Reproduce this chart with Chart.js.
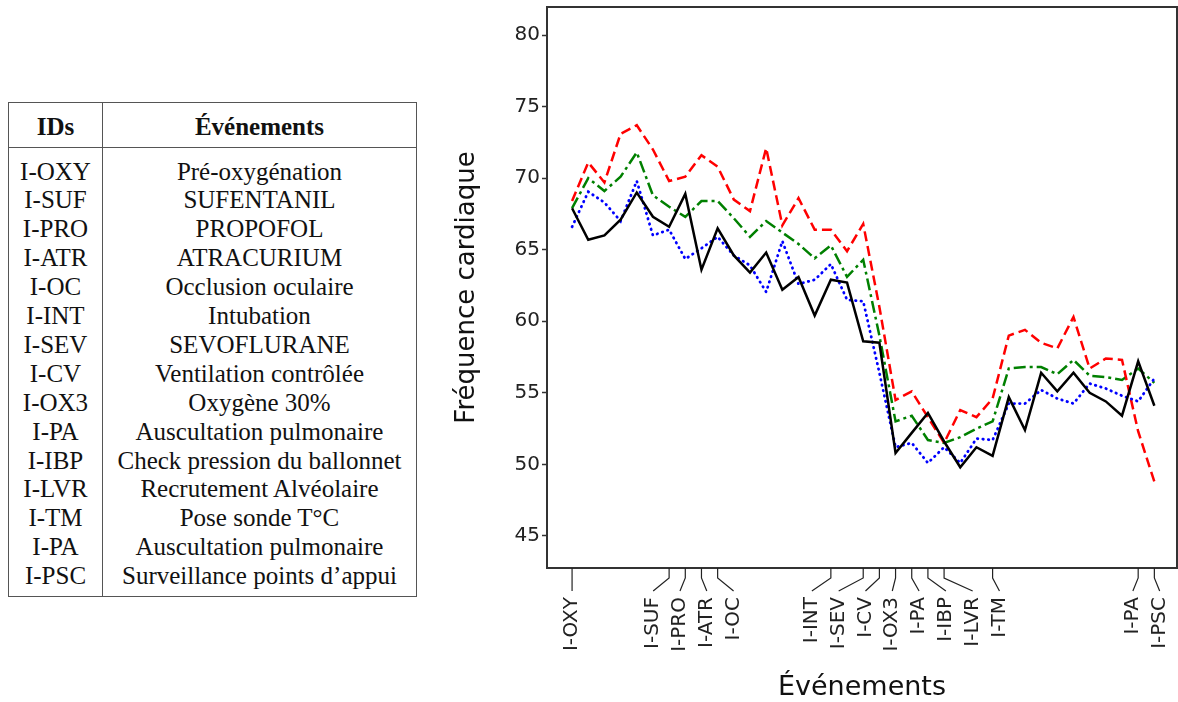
<!DOCTYPE html>
<html>
<head>
<meta charset="utf-8">
<script src="https://cdn.jsdelivr.net/npm/chart.js@4.4.1/dist/chart.umd.min.js"></script>
<style>
html, body { margin: 0; padding: 0; background: #fff; overflow: hidden; width: 1178px; height: 702px; }
#tbl { position: absolute; left: 8px; top: 102px; width: 409px; height: 495px; box-sizing: border-box;
       border: 1px solid #555; font-family: "Liberation Serif", serif; font-size: 25px; color: #111; }
#tbl .sep { position: absolute; left: 93px; top: 0; bottom: 0; border-left: 1px solid #555; }
#tbl .head { position: absolute; left: 0; right: 0; top: 0; height: 44px; border-bottom: 1px solid #555; font-weight: bold; }
#tbl .c1, #tbl .c2 { position: absolute; line-height: 28.9px; text-align: center; white-space: nowrap; }
#tbl .c1 { left: 0; width: 93px; }
#tbl .c2 { left: 94px; right: 0; }
#wrap { position: absolute; left: 430px; top: 0; width: 748px; height: 702px; }
</style>
</head>
<body>
<div id="tbl"><div class="head"></div><div class="sep"></div></div>
<div id="wrap"><canvas id="hrChart"></canvas></div>
<script>
// table on the left
var tableIds = ['I-OXY', 'I-SUF', 'I-PRO', 'I-ATR', 'I-OC', 'I-INT', 'I-SEV', 'I-CV', 'I-OX3', 'I-PA', 'I-IBP', 'I-LVR', 'I-TM', 'I-PA', 'I-PSC'];
var tableEvents = ['Pré-oxygénation', 'SUFENTANIL', 'PROPOFOL', 'ATRACURIUM', 'Occlusion oculaire', 'Intubation', 'SEVOFLURANE',
    'Ventilation contrôlée', 'Oxygène 30%', 'Auscultation pulmonaire', 'Check pression du ballonnet', 'Recrutement Alvéolaire',
    'Pose sonde T°C', 'Auscultation pulmonaire', 'Surveillance points d’appui'];

// x axis events (sample index of each event)
var eventIds = ['I-OXY', 'I-SUF', 'I-PRO', 'I-ATR', 'I-OC', 'I-INT', 'I-SEV', 'I-CV', 'I-OX3', 'I-PA', 'I-IBP', 'I-LVR', 'I-TM', 'I-PA', 'I-PSC'];
var eventPos = [0, 6, 7, 8, 9, 16, 18, 19, 20, 21, 22, 23, 26, 35, 36];

var yTicks = [45, 50, 55, 60, 65, 70, 75, 80];

// heart rate series
var blackHr = [67.9, 65.7, 66.0, 67.1, 69.0, 67.3, 66.6, 68.9, 63.6, 66.5, 64.6, 63.4, 64.8, 62.2, 63.1, 60.4, 62.9, 62.7, 58.6, 58.5,
    50.8, 52.2, 53.6, 51.6, 49.8, 51.2, 50.6, 54.7, 52.4, 56.4, 55.1, 56.4, 55.0, 54.4, 53.4, 57.2, 54.1];
var blueHr = [66.6, 69.05, 68.3, 67.0, 69.8, 66.0, 66.4, 64.35, 65.1, 65.9, 64.6, 63.9, 62.05, 65.6, 62.6, 62.9, 64.0, 61.5, 61.4, 56.4,
    51.2, 51.5, 50.1, 51.2, 50.1, 51.8, 51.7, 54.25, 54.25, 55.2, 54.6, 54.25, 55.65, 55.3, 54.8, 54.4, 56.0];
var greenHr = [67.9, 70.0, 69.1, 70.1, 71.8, 68.8, 68.0, 67.3, 68.4, 68.4, 67.2, 65.9, 67.0, 66.2, 65.4, 64.4, 65.3, 63.1, 64.3, 59.0,
    53.0, 53.4, 51.7, 51.5, 51.9, 52.5, 53.0, 56.7, 56.8, 56.8, 56.3, 57.3, 56.2, 56.1, 55.9, 56.7, 55.7];
var redHr = [68.4, 71.1, 69.7, 73.1, 73.7, 72.0, 69.8, 70.1, 71.6, 70.8, 68.5, 67.7, 72.1, 66.7, 68.6, 66.4, 66.4, 64.9, 66.8, 61.0,
    54.5, 55.1, 53.3, 51.5, 53.8, 53.3, 54.6, 59.0, 59.4, 58.5, 58.1, 60.3, 56.7, 57.4, 57.3, 52.3, 48.8];

// build table
var tbl = document.getElementById('tbl');
function cell(cls, text, top, parent) {
    var d = document.createElement('div');
    d.className = cls;
    d.style.top = top + 'px';
    d.textContent = text;
    parent.appendChild(d);
}
var head = tbl.querySelector('.head');
cell('c1', 'IDs', 10, head);
cell('c2', 'Événements', 10, head);
tableIds.forEach(function (id, i) {
    cell('c1', id, 54.5 + 28.9 * i, tbl);
    cell('c2', tableEvents[i], 54.5 + 28.9 * i, tbl);
});

function toPts(arr) {
    return arr.map(function (v, i) { return { x: i, y: v }; });
}

// spread overlapping labels around the mean of their ticks
function spread(pos, gap) {
    var groups = pos.map(function (p) { return [p]; });
    var center = function (g) { return g.reduce(function (s, v) { return s + v; }, 0) / g.length; };
    var merged = true;
    while (merged) {
        merged = false;
        for (var i = 0; i < groups.length - 1; i++) {
            var aR = center(groups[i]) + (groups[i].length - 1) * gap / 2;
            var bL = center(groups[i + 1]) - (groups[i + 1].length - 1) * gap / 2;
            if (bL - aR < gap) {
                groups[i] = groups[i].concat(groups[i + 1]);
                groups.splice(i + 1, 1);
                merged = true;
                break;
            }
        }
    }
    var out = [];
    groups.forEach(function (g) {
        var c = center(g);
        g.forEach(function (_, k) { out.push(c + (k - (g.length - 1) / 2) * gap); });
    });
    return out;
}

var eventAxis = {
    id: 'eventAxis',
    afterDraw: function (chart) {
        var ctx = chart.ctx, a = chart.chartArea, x = chart.scales.x;
        ctx.save();
        ctx.strokeStyle = '#333';
        ctx.lineWidth = 2;
        ctx.strokeRect(a.left, a.top, a.right - a.left, a.bottom - a.top);

        var ticks = eventPos.map(function (p) { return x.getPixelForValue(p); });
        var lx = spread(ticks, 26.8);
        ctx.lineWidth = 1.2;
        ctx.strokeStyle = '#222';
        ticks.forEach(function (tx, i) {
            ctx.beginPath();
            ctx.moveTo(tx, a.bottom);
            ctx.lineTo(tx, a.bottom + 10);
            ctx.lineTo(lx[i], a.bottom + 23);
            ctx.stroke();
        });
        ctx.fillStyle = '#222';
        ctx.font = '20px "DejaVu Sans"';
        ctx.textAlign = 'right';
        ctx.textBaseline = 'middle';
        eventIds.forEach(function (t, i) {
            ctx.save();
            ctx.translate(lx[i], a.bottom + 29);
            ctx.rotate(-Math.PI / 2);
            ctx.fillText(t, 0, 0);
            ctx.restore();
        });
        ctx.restore();
    }
};

var ctx = document.getElementById('hrChart').getContext('2d');
var myChart = new Chart(ctx, {
    type: 'line',
    data: {
        datasets: [
            { data: toPts(blackHr), borderColor: '#000', borderWidth: 2.5 },
            { data: toPts(blueHr), borderColor: '#0000ff', borderWidth: 2.8, borderDash: [0.5, 5], borderCapStyle: 'round' },
            { data: toPts(redHr), borderColor: '#ff0000', borderWidth: 2.5, borderDash: [10, 5] },
            { data: toPts(greenHr), borderColor: '#008000', borderWidth: 2.5, borderDash: [12, 4, 3, 4] }
        ]
    },
    options: {
        responsive: true,
        maintainAspectRatio: false,
        animation: false,
        layout: { padding: { top: 7, right: 1, left: 0, bottom: 0 } },
        elements: { point: { radius: 0 }, line: { tension: 0, fill: false } },
        plugins: { legend: { display: false }, tooltip: { enabled: false } },
        scales: {
            x: {
                type: 'linear',
                min: -1.55,
                max: 37.4,
                grid: { display: false },
                border: { display: false },
                ticks: { display: false },
                afterFit: function (s) { s.height = 134; s.paddingLeft = 0; s.paddingRight = 0; },
                title: {
                    display: true, text: 'Événements', color: '#111',
                    font: { family: 'DejaVu Sans', size: 27, lineHeight: 1 },
                    padding: { top: 0, bottom: 1 }
                }
            },
            y: {
                min: 42.76,
                max: 81.96,
                afterBuildTicks: function (s) { s.ticks = yTicks.map(function (v) { return { value: v }; }); },
                afterFit: function (s) { s.width = 117; s.paddingTop = 0; s.paddingBottom = 0; },
                grid: { drawOnChartArea: false, drawTicks: true, tickLength: 5, tickColor: '#333', tickWidth: 1.5 },
                border: { display: false },
                ticks: { font: { family: 'DejaVu Sans', size: 20 }, color: '#222', padding: 2 },
                title: {
                    display: true, text: 'Fréquence cardiaque', color: '#111',
                    font: { family: 'DejaVu Sans', size: 26, lineHeight: 1 },
                    padding: { top: 24, bottom: 0 }
                }
            }
        }
    },
    plugins: [eventAxis]
});
</script>
</body>
</html>
